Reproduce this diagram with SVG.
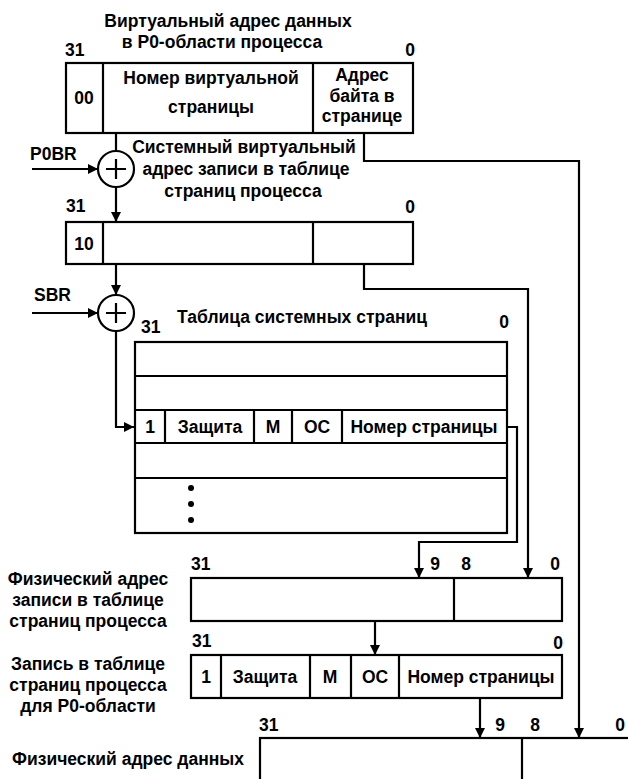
<svg xmlns="http://www.w3.org/2000/svg" width="628" height="779" viewBox="0 0 628 779">
<style>
text{font-family:"Liberation Sans",Arial,sans-serif;font-weight:bold;font-size:17.5px;fill:#000}
.m{text-anchor:middle}
.e{text-anchor:end}
.b{fill:#fff;stroke:#000;stroke-width:2.2}
.l{fill:none;stroke:#000;stroke-width:2.2}
</style>
<defs>
<marker id="ah" viewBox="0 0 10 10" refX="10" refY="5" markerWidth="10" markerHeight="13" markerUnits="userSpaceOnUse" orient="auto">
<path d="M0,0 L10,5 L0,10 Z" fill="#000"/>
</marker>
</defs>
<rect width="628" height="779" fill="#fff"/>

<g id="connectors">
<path class="l" d="M116,133 V151"/>
<path class="l" d="M116,187 V222" marker-end="url(#ah)"/>
<path class="l" d="M32,169 H98" marker-end="url(#ah)"/>
<path class="l" d="M116,264 V295" marker-end="url(#ah)"/>
<path class="l" d="M32,313 H98" marker-end="url(#ah)"/>
<path class="l" d="M116,331 V427 H134" marker-end="url(#ah)"/>
<path class="l" d="M364,133 V161 H579 V738" marker-end="url(#ah)"/>
<path class="l" d="M364,264 V289 H528 V578" marker-end="url(#ah)"/>
<path class="l" d="M507,427 H517 V542 H419 V578" marker-end="url(#ah)"/>
<path class="l" d="M375,621 V655" marker-end="url(#ah)"/>
<path class="l" d="M480,698 V738" marker-end="url(#ah)"/>
</g>

<g id="va">
<text class="m" x="228" y="27">Виртуальный адрес данных</text>
<text class="m" x="222" y="48">в P0-области процесса</text>
<text x="65" y="56">31</text>
<text class="e" x="415" y="56">0</text>
<rect class="b" x="66" y="63" width="347" height="70"/>
<path class="l" d="M103,63 V133 M313,63 V133"/>
<text class="m" x="84" y="104">00</text>
<text class="m" x="211" y="84">Номер виртуальной</text>
<text class="m" x="211" y="113">страницы</text>
<text class="m" x="362" y="81">Адрес</text>
<text class="m" x="362" y="102">байта в</text>
<text class="m" x="362" y="122">странице</text>
</g>

<g id="p0br">
<text x="30" y="160">P0BR</text>
<circle class="b" cx="116" cy="169" r="18"/>
<path class="l" d="M106,169 H126 M116,159 V179"/>
</g>

<g id="sva-label">
<text class="m" x="244" y="153">Системный виртуальный</text>
<text class="m" x="246" y="175">адрес записи в таблице</text>
<text class="m" x="243" y="197">страниц процесса</text>
</g>

<g id="sva">
<text x="66" y="212">31</text>
<text class="e" x="415" y="213">0</text>
<rect class="b" x="66" y="222" width="347" height="42"/>
<path class="l" d="M103,222 V264 M313,222 V264"/>
<text class="m" x="84" y="250">10</text>
</g>

<g id="sbr">
<text x="34" y="301">SBR</text>
<circle class="b" cx="116" cy="313" r="18"/>
<path class="l" d="M106,313 H126 M116,303 V323"/>
</g>

<g id="spt">
<text x="141" y="333">31</text>
<text class="m" x="302" y="323">Таблица системных страниц</text>
<text class="e" x="509" y="328">0</text>
<rect class="b" x="135" y="342" width="372" height="191"/>
<path class="l" d="M135,376 H507 M135,410 H507 M135,443 H507 M135,478 H507"/>
<path class="l" d="M165,410 V443 M254,410 V443 M292,410 V443 M342,410 V443"/>
<text class="m" x="150" y="433">1</text>
<text class="m" x="210" y="433">Защита</text>
<text class="m" x="273" y="433">M</text>
<text class="m" x="317" y="433">OC</text>
<text class="m" x="424" y="433">Номер страницы</text>
<circle cx="191" cy="488" r="3"/>
<circle cx="191" cy="504" r="3"/>
<circle cx="191" cy="520" r="3"/>
</g>

<g id="ppa">
<text class="m" x="88" y="585">Физический адрес</text>
<text class="m" x="88" y="606">записи в таблице</text>
<text class="m" x="88" y="627">страниц процесса</text>
<text x="191" y="570">31</text>
<text class="m" x="435" y="570">9</text>
<text class="m" x="466" y="570">8</text>
<text class="e" x="560" y="570">0</text>
<rect class="b" x="191" y="578" width="371" height="43"/>
<path class="l" d="M454,578 V621"/>
</g>

<g id="pte">
<text class="m" x="88" y="670">Запись в таблице</text>
<text class="m" x="88" y="691">страниц процесса</text>
<text class="m" x="88" y="712">для P0-области</text>
<text x="192" y="647">31</text>
<text class="e" x="563" y="649">0</text>
<rect class="b" x="191" y="655" width="371" height="43"/>
<path class="l" d="M221,655 V698 M310,655 V698 M351,655 V698 M399,655 V698"/>
<text class="m" x="206" y="683">1</text>
<text class="m" x="265" y="683">Защита</text>
<text class="m" x="330" y="683">M</text>
<text class="m" x="375" y="683">OC</text>
<text class="m" x="481" y="683">Номер страницы</text>
</g>

<g id="pa">
<text class="m" x="128" y="765">Физический адрес данных</text>
<text x="259" y="731">31</text>
<text class="m" x="500" y="731">9</text>
<text class="m" x="535" y="731">8</text>
<text class="m" x="620" y="731">0</text>
<rect class="b" x="260" y="738" width="400" height="60"/>
<path class="l" d="M522,738 V779"/>
</g>
</svg>
